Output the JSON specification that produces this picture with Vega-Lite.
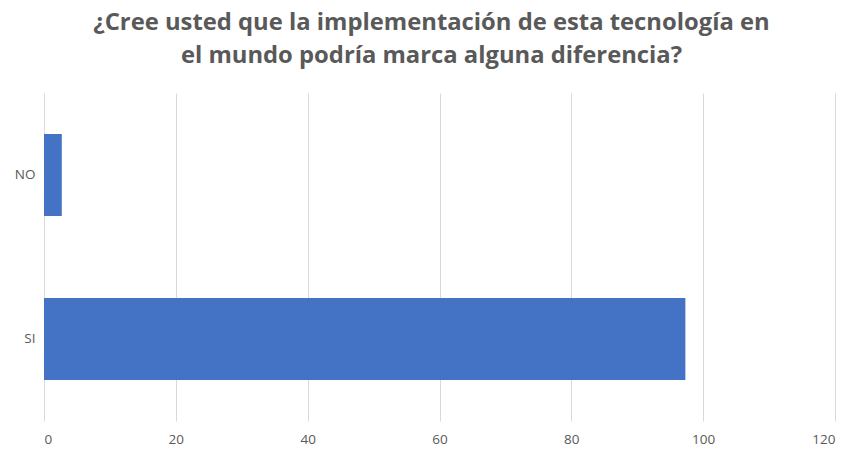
{
  "$schema": "https://vega.github.io/schema/vega-lite/v6.json",
  "autosize": {"type": "none"},
  "width": 791,
  "height": 328,
  "padding": {"left": 44, "top": 93, "right": 22, "bottom": 39},
  "background": "white",
  "title": {
    "text": ["¿Cree usted que la implementación de esta tecnología en", "el mundo podría marca alguna diferencia?"],
    "fontSize": 23.8,
    "lineHeight": 33,
    "font": "Open Sans",
    "fontWeight": "bold",
    "color": "#595959",
    "anchor": "middle",
    "dx": -8,
    "offset": 25
  },
  "data": {
    "values": [
      {"respuesta": "NO", "valor": 2.7},
      {"respuesta": "SI", "valor": 97.3}
    ]
  },
  "mark": {"type": "bar", "color": "#4472C4"},
  "encoding": {
    "y": {
      "field": "respuesta",
      "type": "nominal",
      "sort": ["NO", "SI"],
      "scale": {"paddingInner": 0.5, "paddingOuter": 0.25},
      "axis": {
        "title": null,
        "ticks": false,
        "domain": false,
        "labelPadding": 9,
        "labelFont": "Open Sans",
        "labelFontSize": 13.5,
        "labelColor": "#595959"
      }
    },
    "x": {
      "field": "valor",
      "type": "quantitative",
      "scale": {"domain": [0, 120], "nice": false},
      "axis": {
        "title": null,
        "values": [0, 20, 40, 60, 80, 100, 120],
        "ticks": false,
        "domain": false,
        "grid": true,
        "gridColor": "#d9d9d9",
        "gridWidth": 1,
        "labelPadding": 11,
        "labelFont": "Open Sans",
        "labelFontSize": 13.5,
        "labelColor": "#595959"
      }
    }
  },
  "config": {"view": {"stroke": null}}
}
